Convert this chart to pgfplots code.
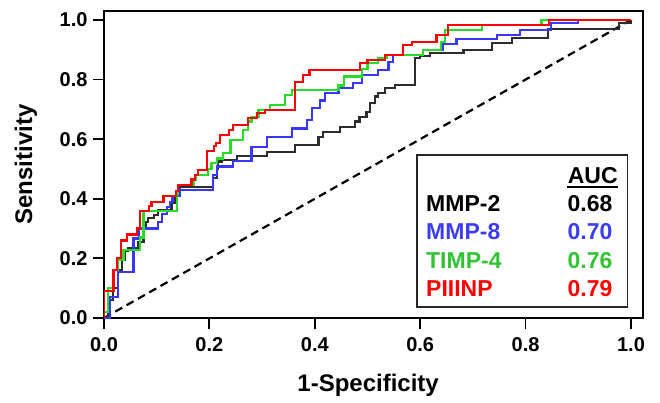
\documentclass[border=0pt]{standalone}
\usepackage{fontspec}
\setmainfont{Liberation Sans}
\usepackage{pgfplots}
\pgfplotsset{compat=1.18}

\definecolor{rocblack}{RGB}{45,45,45}
\definecolor{rocblue}{RGB}{55,55,255}
\definecolor{rocgreen}{RGB}{40,220,40}
\definecolor{rocred}{RGB}{255,0,0}
\definecolor{txtblue}{RGB}{60,60,245}
\definecolor{txtgreen}{RGB}{50,195,50}

\begin{document}
\begin{tikzpicture}
\begin{axis}[
    scale only axis,
    width=539pt, height=307pt,
    xmin=0, xmax=1.0228,
    ymin=0, ymax=1.030,
    axis line style={line width=2pt},
    every tick/.style={line width=1.8pt, black},
    major tick length=11pt,
    tick align=outside,
    xtick pos=bottom, ytick pos=left,
    xtick={0,0.2,0.4,0.6,0.8,1},
    ytick={0,0.2,0.4,0.6,0.8,1},
    /pgf/number format/assume math mode=true,
    /pgf/number format/fixed,
    /pgf/number format/fixed zerofill,
    /pgf/number format/precision=1,
    tick label style={font=\bfseries\fontsize{20}{20}\selectfont},
    xticklabel style={yshift=-5pt},
    yticklabel style={xshift=-2pt},
    xlabel={1-Specificity},
    ylabel={Sensitivity},
    label style={font=\bfseries\fontsize{24}{24}\selectfont},
    xlabel style={at={(axis description cs:0.49,0)}, anchor=base, yshift=-73pt},
    ylabel style={at={(axis description cs:0,0.5)}, anchor=center, yshift=78pt},
]

% chance line
\addplot[black, line width=2.2pt, dash pattern=on 8pt off 5pt] coordinates {(0,0) (1,1)};

% MMP-2
\addplot[rocblack, line width=2.2pt] coordinates {
(0,0) (0.008,0) (0.008,0.06) (0.017,0.06) (0.017,0.10) (0.027,0.10) (0.027,0.16)
(0.034,0.16) (0.034,0.195) (0.039,0.195) (0.039,0.225) (0.046,0.225) (0.046,0.234)
(0.065,0.234) (0.065,0.256) (0.075,0.256) (0.075,0.306) (0.08,0.306) (0.08,0.323)
(0.084,0.323) (0.084,0.335) (0.095,0.335) (0.095,0.345) (0.103,0.345) (0.103,0.362)
(0.128,0.362) (0.128,0.386) (0.134,0.386) (0.134,0.407) (0.138,0.407) (0.138,0.424)
(0.144,0.424) (0.144,0.44) (0.207,0.44) (0.207,0.47) (0.214,0.47) (0.214,0.50)
(0.217,0.50) (0.217,0.525) (0.223,0.525) (0.223,0.53) (0.252,0.53) (0.252,0.544)
(0.309,0.544) (0.309,0.558) (0.362,0.558) (0.362,0.58) (0.407,0.58) (0.407,0.608)
(0.416,0.608) (0.416,0.625) (0.448,0.625) (0.448,0.642) (0.476,0.642) (0.476,0.659)
(0.485,0.659) (0.485,0.675) (0.498,0.675) (0.498,0.692) (0.505,0.692) (0.505,0.72)
(0.514,0.72) (0.514,0.743) (0.52,0.743) (0.52,0.754) (0.533,0.754) (0.533,0.771)
(0.552,0.771) (0.552,0.782) (0.59,0.782) (0.59,0.871) (0.60,0.871) (0.60,0.88)
(0.619,0.88) (0.619,0.888) (0.682,0.888) (0.682,0.90) (0.736,0.90) (0.736,0.922)
(0.774,0.922) (0.774,0.939) (0.843,0.939) (0.843,0.97) (0.977,0.97) (0.977,0.99)
(1.0,0.99) (1.0,1.0)
};

% MMP-8
\addplot[rocblue, line width=2.2pt] coordinates {
(0,0) (0.011,0) (0.011,0.07) (0.027,0.07) (0.027,0.155) (0.056,0.155) (0.056,0.267)
(0.066,0.267) (0.066,0.30) (0.103,0.30) (0.103,0.323) (0.11,0.323) (0.11,0.35)
(0.119,0.35) (0.119,0.373) (0.125,0.373) (0.125,0.39) (0.13,0.39) (0.13,0.41)
(0.144,0.41) (0.144,0.43) (0.207,0.43) (0.207,0.48) (0.215,0.48) (0.215,0.508)
(0.245,0.508) (0.245,0.528) (0.28,0.528) (0.28,0.575) (0.309,0.575) (0.309,0.608)
(0.356,0.608) (0.356,0.636) (0.385,0.636) (0.385,0.664) (0.394,0.664) (0.394,0.704)
(0.41,0.704) (0.41,0.73) (0.419,0.73) (0.419,0.754) (0.445,0.754) (0.445,0.772)
(0.473,0.772) (0.473,0.788) (0.49,0.788) (0.49,0.815) (0.52,0.815) (0.52,0.832)
(0.54,0.832) (0.54,0.86) (0.549,0.86) (0.549,0.883) (0.606,0.883) (0.606,0.90)
(0.644,0.90) (0.644,0.918) (0.669,0.918) (0.669,0.935) (0.745,0.935) (0.745,0.95)
(0.789,0.95) (0.789,0.966) (0.848,0.966) (0.848,0.99) (0.90,0.99) (0.90,1.0) (1.0,1.0)
};

% TIMP-4
\addplot[rocgreen, line width=2.2pt] coordinates {
(0,0) (0,0.02) (0.008,0.02) (0.008,0.10) (0.018,0.10) (0.018,0.16) (0.027,0.16)
(0.027,0.195) (0.037,0.195) (0.037,0.228) (0.068,0.228) (0.068,0.27) (0.075,0.27)
(0.075,0.36) (0.139,0.36) (0.139,0.418) (0.141,0.418) (0.141,0.446) (0.17,0.446)
(0.17,0.465) (0.175,0.465) (0.175,0.48) (0.198,0.48) (0.198,0.50) (0.204,0.50)
(0.204,0.52) (0.215,0.52) (0.215,0.535) (0.226,0.535) (0.226,0.553) (0.24,0.553)
(0.24,0.597) (0.264,0.597) (0.264,0.631) (0.274,0.631) (0.274,0.659) (0.28,0.659)
(0.28,0.675) (0.293,0.675) (0.293,0.698) (0.315,0.698) (0.315,0.715) (0.343,0.715)
(0.343,0.748) (0.356,0.748) (0.356,0.765) (0.445,0.765) (0.445,0.78) (0.455,0.78)
(0.455,0.81) (0.489,0.81) (0.489,0.835) (0.50,0.835) (0.50,0.855) (0.52,0.855)
(0.52,0.871) (0.536,0.871) (0.536,0.883) (0.606,0.883) (0.606,0.90) (0.64,0.90)
(0.64,0.927) (0.647,0.927) (0.647,0.966) (0.717,0.966) (0.717,0.983) (0.83,0.983)
(0.83,1.0) (1.0,1.0)
};

% PIIINP
\addplot[rocred, line width=2.2pt] coordinates {
(0,0) (0,0.09) (0.018,0.09) (0.018,0.16) (0.025,0.16) (0.025,0.20) (0.032,0.20)
(0.032,0.26) (0.043,0.26) (0.043,0.28) (0.062,0.28) (0.062,0.30) (0.068,0.30)
(0.068,0.36) (0.085,0.36) (0.085,0.375) (0.09,0.375) (0.09,0.39) (0.113,0.39)
(0.113,0.408) (0.136,0.408) (0.136,0.425) (0.141,0.425) (0.141,0.446) (0.166,0.446)
(0.166,0.465) (0.172,0.465) (0.172,0.48) (0.178,0.48) (0.178,0.497) (0.195,0.497)
(0.195,0.561) (0.208,0.561) (0.208,0.577) (0.213,0.577) (0.213,0.588) (0.22,0.588)
(0.22,0.614) (0.237,0.614) (0.237,0.631) (0.245,0.631) (0.245,0.648) (0.274,0.648)
(0.274,0.670) (0.29,0.670) (0.29,0.687) (0.306,0.687) (0.306,0.698) (0.362,0.698)
(0.362,0.793) (0.378,0.793) (0.378,0.815) (0.39,0.815) (0.39,0.832) (0.486,0.832)
(0.486,0.855) (0.50,0.855) (0.50,0.866) (0.533,0.866) (0.533,0.883) (0.568,0.883)
(0.568,0.916) (0.584,0.916) (0.584,0.927) (0.631,0.927) (0.631,0.95) (0.653,0.95)
(0.653,0.983) (0.845,0.983) (0.845,1.0) (1.0,1.0)
};

% AUC box
\draw[fill=white, draw=black!85, line width=1.2pt] (axis cs:0.594,0.037) rectangle (axis cs:0.994,0.547);
\begin{scope}[every node/.style={inner sep=0pt, font=\bfseries\fontsize{23}{23}\selectfont}]
\node[anchor=base east] at (axis cs:0.975,0.452) {AUC};
\draw[line width=2.6pt] (axis cs:0.879,0.44) -- (axis cs:0.975,0.44);
\node[anchor=base west, black] at (axis cs:0.611,0.357) {MMP-2};
\node[anchor=base east, black] at (axis cs:0.965,0.357) {0.68};
\node[anchor=base west, txtblue] at (axis cs:0.611,0.262) {MMP-8};
\node[anchor=base east, txtblue] at (axis cs:0.965,0.262) {0.70};
\node[anchor=base west, txtgreen] at (axis cs:0.611,0.167) {TIMP-4};
\node[anchor=base east, txtgreen] at (axis cs:0.965,0.167) {0.76};
\node[anchor=base west, rocred] at (axis cs:0.611,0.072) {PIIINP};
\node[anchor=base east, rocred] at (axis cs:0.965,0.072) {0.79};
\end{scope}
\end{axis}
\pgfresetboundingbox
\path[use as bounding box] (-104pt,-84pt) rectangle (556pt,318pt);
\end{tikzpicture}
\end{document}
